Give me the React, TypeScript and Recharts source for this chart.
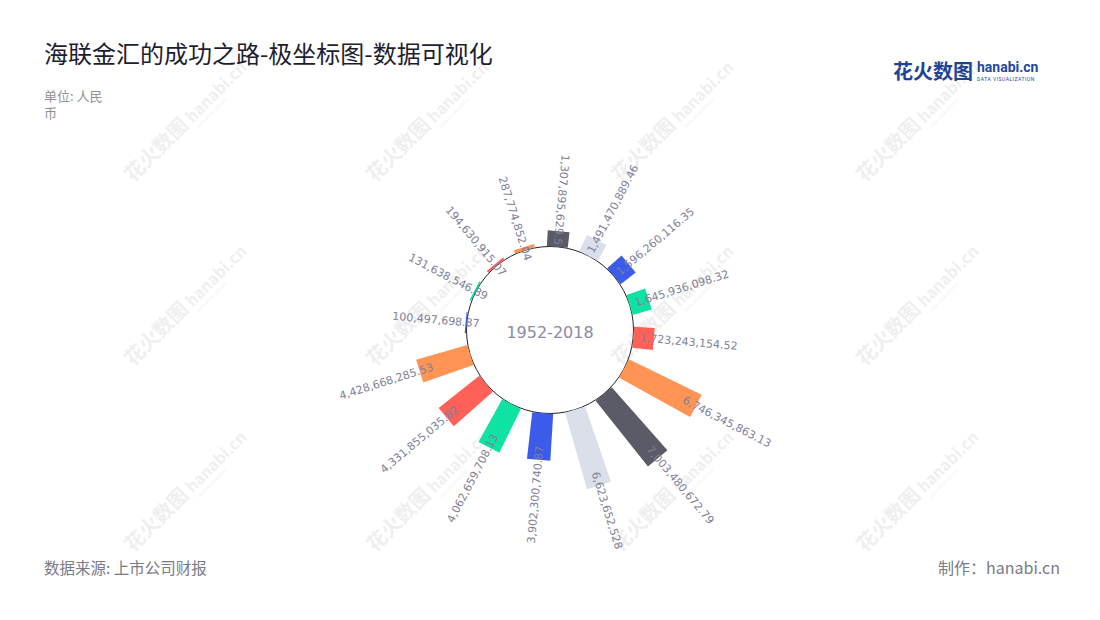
import React from "react";
import { RadialBarChart, RadialBar, PolarAngleAxis, PolarRadiusAxis, PolarGrid, Cell } from "recharts";

// 16 periods between 1952 and 2018, clockwise from the top
const CATEGORIES = ["P1", "P2", "P3", "P4", "P5", "P6", "P7", "P8", "P9", "P10", "P11", "P12", "P13", "P14", "P15", "P16"];
const VALUES = [
  1307895629.5, 1491470889.46, 1596260116.35, 1645936098.32, 1723243154.52, 6746345863.13,
  7003480672.79, 6623652528, 3902300740.87, 4062659708.13, 4331855035.82, 4428668285.53,
  100497698.87, 131638546.89, 194630915.07, 287774852.04,
];
const RADIUS_DOMAIN = [0, 8000000000];
const CENTER_LABEL = "1952-2018";

const PALETTE = {
  dark: "#5a5b66",
  light: "#dadfe9",
  blue: "#3b5bea",
  green: "#0ee3a3",
  red: "#ff6159",
  orange: "#ff9455",
};
const BAR_COLORS = [
  PALETTE.dark, PALETTE.light, PALETTE.blue, PALETTE.green, PALETTE.red, PALETTE.orange,
  PALETTE.dark, PALETTE.light, PALETTE.blue, PALETTE.green, PALETTE.red, PALETTE.orange,
  PALETTE.blue, PALETTE.green, PALETTE.red, PALETTE.orange,
];

const data = CATEGORIES.map((name, i) => ({ name, value: VALUES[i] }));

const CX = 550;
const CY = 330;
const INNER = 83.5;
const OUTER = 179.5;
const START = 73.75;
const RAD = Math.PI / 180;
const LABEL_COLOR = "#7f7f99";

const fmt = (v: number) => v.toLocaleString("en-US", { maximumFractionDigits: 2 });

// bars are drawn as straight strips along the mid angle of each band, with the value label on top
function BarShape(props: any) {
  const { cx, cy, innerRadius, outerRadius, startAngle, endAngle, fill, payload } = props;
  const mid = (startAngle + endAngle) / 2;
  const ux = Math.cos(mid * RAD);
  const uy = -Math.sin(mid * RAD);
  const px = -uy;
  const py = ux;
  const w0 = 10.5;
  const w1 = 10.5 + 0.026 * (outerRadius - innerRadius);
  const ax = cx + ux * innerRadius;
  const ay = cy + uy * innerRadius;
  const bx = cx + ux * outerRadius;
  const by = cy + uy * outerRadius;
  const pts = [
    [ax + px * w0, ay + py * w0],
    [bx + px * w1, by + py * w1],
    [bx - px * w1, by - py * w1],
    [ax - px * w0, ay - py * w0],
  ]
    .map((p) => p.join(","))
    .join(" ");

  const clock = (((90 - mid) % 360) + 360) % 360;
  const outward = clock > 10 && clock < 180;
  const lr = outerRadius - 14;
  const lx = cx + ux * lr;
  const ly = cy + uy * lr;
  const rot = outward ? -mid : 180 - mid;

  return (
    <g>
      <polygon points={pts} fill={fill} />
      <text
        x={lx}
        y={ly}
        transform={`rotate(${rot} ${lx} ${ly})`}
        textAnchor={outward ? "start" : "end"}
        dominantBaseline="central"
        fill={LABEL_COLOR}
        fontSize={11}
        fontFamily="DejaVu Sans, sans-serif"
      >
        {fmt(payload.value)}
      </text>
    </g>
  );
}

const WM_COLS = [133, 375, 620, 865];
const WM_ROWS = [183, 367, 553];

function Watermarks() {
  return (
    <svg width={1100} height={620} style={{ position: "absolute", left: 0, top: 0 }}>
      {WM_ROWS.map((y) =>
        WM_COLS.map((x) => (
          <g key={`${x}-${y}`} transform={`translate(${x},${y}) rotate(-45)`} fill="#efefef" fontFamily="Noto Sans CJK SC" fontWeight={700}>
            <text x={0} y={0} fontSize={20}>花火数图</text>
            <text x={84} y={0} fontSize={16}>hanabi.cn</text>
            <text x={86} y={8} fontSize={4} fontWeight={400}>DATA VISUALIZATION</text>
          </g>
        ))
      )}
    </svg>
  );
}

export default function App() {
  return (
    <div
      style={{
        position: "absolute",
        left: 0,
        top: 0,
        width: 1100,
        height: 620,
        background: "#fff",
        fontFamily: "'Noto Sans CJK SC', sans-serif",
        overflow: "hidden",
      }}
    >
      <Watermarks />

      <div style={{ position: "absolute", left: 44, top: 40, fontSize: 24, lineHeight: "26px", color: "#1d1d30" }}>
        海联金汇的成功之路-极坐标图-数据可视化
      </div>
      <div style={{ position: "absolute", left: 44, top: 87, fontSize: 13, lineHeight: "17px", color: "#8f8f9c" }}>
        单位: 人民
        <br />币
      </div>

      {/* logo */}
      <div style={{ position: "absolute", left: 893, top: 58, display: "flex", alignItems: "flex-start" }}>
        <span style={{ fontSize: 20, lineHeight: "26px", fontWeight: 700, color: "#1f4496" }}>花火数图</span>
        <span style={{ marginLeft: 4, display: "flex", flexDirection: "column" }}>
          <span style={{ fontSize: 14, lineHeight: "18px", fontWeight: 700, color: "#2447a0", fontFamily: "Roboto" }}>hanabi.cn</span>
          <span style={{ fontSize: 5, lineHeight: "6px", color: "#2447a0", letterSpacing: 0.5, fontFamily: "Roboto" }}>DATA VISUALIZATION</span>
        </span>
      </div>

      <div style={{ position: "absolute", left: 0, top: 0 }}>
        <RadialBarChart
          width={1100}
          height={620}
          cx={CX}
          cy={CY}
          innerRadius={INNER}
          outerRadius={OUTER}
          startAngle={START}
          endAngle={START - 360}
          layout="centric"
          data={data}
          margin={{ top: 0, right: 0, bottom: 0, left: 0 }}
        >
          <PolarGrid gridType="circle" polarRadius={[INNER]} polarAngles={[]} radialLines={false} stroke="#222" strokeWidth={1} />
          <PolarAngleAxis type="category" dataKey="name" tick={false} axisLine={false} tickLine={false} />
          <PolarRadiusAxis type="number" domain={RADIUS_DOMAIN} tick={false} axisLine={false} tickLine={false} />
          <RadialBar dataKey="value" isAnimationActive={false} shape={BarShape}>
            {data.map((d, i) => (
              <Cell key={d.name} fill={BAR_COLORS[i]} />
            ))}
          </RadialBar>
        </RadialBarChart>
      </div>

      <div
        style={{
          position: "absolute",
          left: CX - 60,
          width: 120,
          top: CY - 7,
          textAlign: "center",
          fontSize: 16,
          lineHeight: "20px",
          color: "#8b8ba3",
          fontFamily: "DejaVu Sans",
        }}
      >
        {CENTER_LABEL}
      </div>

      <div style={{ position: "absolute", left: 44, top: 556, fontSize: 15.5, lineHeight: "22px", color: "#7a7a88" }}>
        数据来源: 上市公司财报
      </div>
      <div style={{ position: "absolute", right: 40, top: 556, fontSize: 16, lineHeight: "22px", color: "#7a7a88" }}>
        制作：hanabi.cn
      </div>
    </div>
  );
}
